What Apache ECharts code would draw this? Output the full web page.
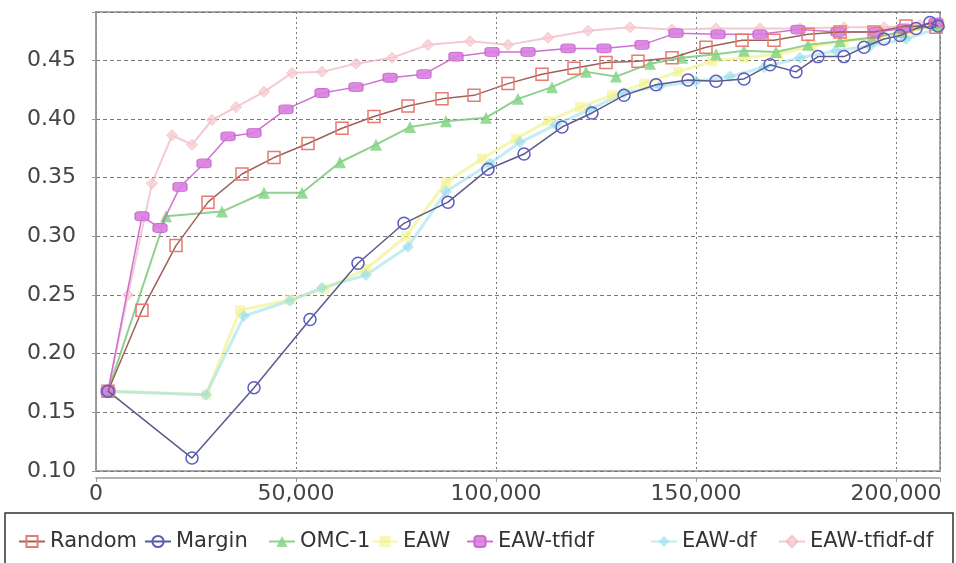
<!DOCTYPE html>
<html>
<head>
<meta charset="utf-8">
<script src="https://cdn.jsdelivr.net/npm/echarts@6/dist/echarts.min.js"></script>
<style>
  html, body { margin: 0; padding: 0; background: #fff; }
  #chart { width: 956px; height: 563px; }
</style>
</head>
<body>
<div id="chart"></div>
<script>
// Learning curves: accuracy vs. number of labelled examples
const seriesNames = ['Random', 'Margin', 'OMC-1', 'EAW', 'EAW-tfidf', 'EAW-df', 'EAW-tfidf-df'];

const xTicks = [0, 50000, 100000, 150000, 200000];
const yTicks = [0.10, 0.15, 0.20, 0.25, 0.30, 0.35, 0.40, 0.45];

const randomX = [3000, 11500, 20000, 28000, 36500, 44500, 53000, 61500, 69500, 78000, 86500, 94500, 103000, 111500, 119500, 127500, 135500, 144000, 152500, 161500, 169500, 178000, 186000, 194500, 202500, 210000];
const randomY = [0.168, 0.237, 0.292, 0.329, 0.353, 0.367, 0.379, 0.392, 0.402, 0.411, 0.417, 0.420, 0.430, 0.438, 0.443, 0.448, 0.449, 0.452, 0.461, 0.467, 0.467, 0.472, 0.474, 0.474, 0.479, 0.478];

const marginX = [3000, 24000, 39500, 53500, 65500, 77000, 88000, 98000, 107000, 116500, 124000, 132000, 140000, 148000, 155000, 162000, 168500, 175000, 180500, 187000, 192000, 197000, 201000, 205000, 208500, 210500];
const marginY = [0.168, 0.111, 0.171, 0.229, 0.277, 0.311, 0.329, 0.357, 0.370, 0.393, 0.405, 0.420, 0.429, 0.433, 0.432, 0.434, 0.446, 0.440, 0.453, 0.453, 0.461, 0.468, 0.471, 0.477, 0.482, 0.479];

const omcX = [3000, 17500, 31500, 42000, 51500, 61000, 70000, 78500, 87500, 97500, 105500, 114000, 122500, 130000, 138500, 146500, 155000, 162000, 170000, 178000, 186000, 194000, 201500, 210000];
const omcY = [0.168, 0.317, 0.321, 0.337, 0.337, 0.363, 0.378, 0.393, 0.398, 0.401, 0.417, 0.427, 0.440, 0.436, 0.447, 0.452, 0.455, 0.458, 0.457, 0.463, 0.466, 0.469, 0.474, 0.480];

const eawX = [3000, 27500, 36000, 48500, 57000, 67500, 77500, 87500, 96500, 105000, 113000, 121000, 129000, 137000, 145500, 154000, 162000, 170500, 179000, 187000, 195500, 203500, 211000];
const eawY = [0.168, 0.165, 0.237, 0.246, 0.255, 0.272, 0.300, 0.346, 0.366, 0.383, 0.398, 0.410, 0.420, 0.430, 0.440, 0.449, 0.452, 0.455, 0.462, 0.466, 0.470, 0.475, 0.480];

const tfidfX = [3000, 11500, 16000, 21000, 27000, 33000, 39500, 47500, 56500, 65000, 73500, 82000, 90000, 99000, 108000, 118000, 127000, 136500, 145000, 155500, 166000, 175500, 185500, 195000, 202000, 210000];
const tfidfY = [0.168, 0.317, 0.307, 0.342, 0.362, 0.385, 0.388, 0.408, 0.422, 0.427, 0.435, 0.438, 0.453, 0.457, 0.457, 0.460, 0.460, 0.463, 0.473, 0.472, 0.472, 0.476, 0.474, 0.474, 0.477, 0.482];

const dfX = [3000, 27500, 37000, 48500, 56500, 67500, 78000, 87500, 98500, 106000, 115000, 123500, 132000, 141000, 150000, 158500, 167000, 176000, 185000, 193500, 202500, 211000];
const dfY = [0.168, 0.165, 0.232, 0.245, 0.256, 0.267, 0.291, 0.338, 0.362, 0.380, 0.395, 0.408, 0.422, 0.428, 0.432, 0.436, 0.444, 0.452, 0.458, 0.462, 0.468, 0.478];

const tfidfDfX = [3000, 8000, 14000, 19000, 24000, 29000, 35000, 42000, 49000, 56500, 65000, 74000, 83000, 93500, 103000, 113000, 123000, 133500, 144000, 155000, 166000, 176000, 187000, 197000, 206000, 210500];
const tfidfDfY = [0.168, 0.250, 0.345, 0.386, 0.378, 0.399, 0.410, 0.423, 0.439, 0.440, 0.447, 0.452, 0.463, 0.466, 0.463, 0.469, 0.475, 0.478, 0.476, 0.477, 0.477, 0.477, 0.478, 0.478, 0.480, 0.482];

const pairs = (xs, ys) => xs.map((x, i) => [x, ys[i]]);

function line(name, xs, ys, o) {
  return {
    name: name,
    type: 'line',
    data: pairs(xs, ys),
    symbol: o.symbol,
    symbolSize: o.size,
    showSymbol: true,
    z: o.z,
    clip: false,
    lineStyle: { color: o.line, width: o.width, opacity: o.opacity },
    itemStyle: {
      color: o.fill,
      borderColor: o.stroke,
      borderWidth: o.borderWidth,
      opacity: o.opacity
    },
    emphasis: { disabled: true },
    animation: false
  };
}

const chart = echarts.init(document.getElementById('chart'));
const font = 'DejaVu Sans';
const tickSet = new Set(xTicks);

const legendPos = [18, 144, 268, 371, 466, 650, 778];
const legends = seriesNames.map((n, i) => ({
  data: [n],
  left: legendPos[i],
  top: 531,
  itemWidth: 26,
  itemHeight: 14,
  itemGap: 0,
  padding: 0,
  selectedMode: false,
  textStyle: { fontFamily: font, fontSize: 21, color: '#333' }
}));

chart.setOption({
  backgroundColor: '#fff',
  animation: false,
  grid: {
    left: 96, top: 12, width: 844, height: 459,
    show: true, backgroundColor: '#fff',
    borderColor: '#a8a8a8', borderWidth: 2
  },
  legend: legends,
  graphic: [{
    type: 'rect',
    shape: { x: 5, y: 513, width: 948, height: 60 },
    style: { fill: 'none', stroke: '#333', lineWidth: 1.5 },
    silent: true
  }],
  xAxis: {
    type: 'value', min: 0, max: 211000, interval: 50000,
    offset: 7,
    axisLine: { show: true, lineStyle: { color: '#999', width: 1.5 } },
    axisTick: { show: true, length: 4, lineStyle: { color: '#999' } },
    axisLabel: {
      fontFamily: font, fontSize: 22, color: '#444', margin: 5,
      formatter: v => tickSet.has(v) ? v.toLocaleString('en-US') : ''
    },
    splitLine: { show: true, lineStyle: { color: '#777', type: [2, 3], width: 1 } }
  },
  yAxis: {
    type: 'value', min: 0.10, max: 0.491, interval: 0.05,
    offset: 8,
    axisLine: { show: true, lineStyle: { color: '#999', width: 1.5 } },
    axisTick: { show: true, length: 4, lineStyle: { color: '#999' } },
    axisLabel: {
      fontFamily: font, fontSize: 22, color: '#444', margin: 12,
      formatter: v => yTicks.some(t => Math.abs(t - v) < 1e-6) ? v.toFixed(2) : ''
    },
    splitLine: { show: true, lineStyle: { color: '#777', type: [4, 3], width: 1 } }
  },
  series: [
    line('EAW-tfidf-df', tfidfDfX, tfidfDfY, { symbol: 'diamond', size: 11, z: 2, line: '#f0b8c2', width: 2, opacity: 0.75, fill: '#f6cbd2', stroke: '#f0b8c2', borderWidth: 1 }),
    line('EAW', eawX, eawY, { symbol: 'rect', size: 10, z: 2, line: '#eef07a', width: 3, opacity: 0.6, fill: '#f2f28a', stroke: '#f2f28a', borderWidth: 0 }),
    line('EAW-df', dfX, dfY, { symbol: 'diamond', size: 12, z: 2, line: '#9fe0ec', width: 3, opacity: 0.6, fill: '#8fdce8', stroke: '#8fdce8', borderWidth: 0 }),
    line('OMC-1', omcX, omcY, { symbol: 'triangle', size: 12, z: 3, line: '#7cc87c', width: 2, opacity: 0.85, fill: '#86d486', stroke: '#86d486', borderWidth: 0 }),
    line('EAW-tfidf', tfidfX, tfidfY, { symbol: 'roundRect', size: [14, 9], z: 4, line: '#c864cc', width: 1.5, opacity: 0.9, fill: '#d87ee0', stroke: '#c864cc', borderWidth: 1 }),
    line('Random', randomX, randomY, { symbol: 'rect', size: 12, z: 5, line: '#a06058', width: 1.5, opacity: 1, fill: 'rgba(255,255,255,0)', stroke: '#e87a70', borderWidth: 1.5 }),
    line('Margin', marginX, marginY, { symbol: 'circle', size: 12, z: 5, line: '#5a5a8c', width: 1.5, opacity: 1, fill: 'rgba(255,255,255,0)', stroke: '#5c5cc4', borderWidth: 1.5 })
  ]
});
</script>
</body>
</html>
